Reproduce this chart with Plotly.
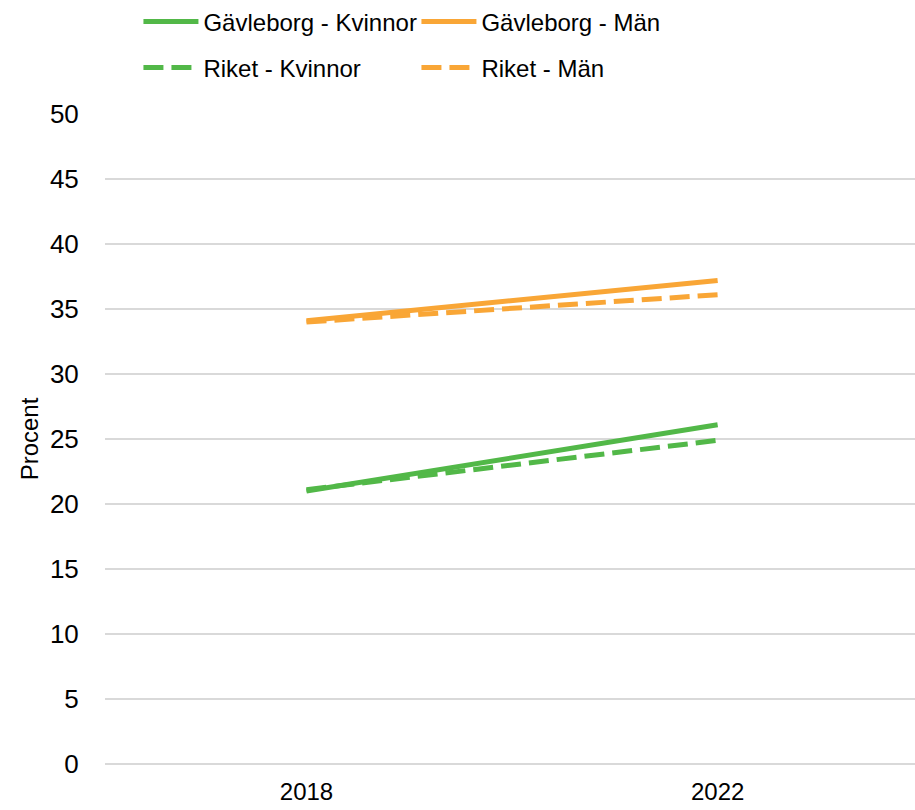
import plotly.graph_objects as go

years = ["2018", "2022"]
gavle_kvinnor = [21.0, 26.1]
gavle_man = [34.1, 37.2]
riket_kvinnor = [21.1, 24.9]
riket_man = [34.0, 36.1]

green = "#52B848"
orange = "#F9A636"
font = "Arial, Liberation Sans, sans-serif"

fig = go.Figure()
fig.add_trace(go.Scatter(x=years, y=gavle_kvinnor, mode="lines", name="Gävleborg - Kvinnor",
                         line=dict(color=green, width=5), legend="legend"))
fig.add_trace(go.Scatter(x=years, y=gavle_man, mode="lines", name="Gävleborg - Män",
                         line=dict(color=orange, width=5), legend="legend"))
fig.add_trace(go.Scatter(x=years, y=riket_kvinnor, mode="lines", name="Riket - Kvinnor",
                         line=dict(color=green, width=5, dash="20px,8px"), legend="legend2"))
fig.add_trace(go.Scatter(x=years, y=riket_man, mode="lines", name="Riket - Män",
                         line=dict(color=orange, width=5, dash="20px,8px"), legend="legend2"))

leg = dict(orientation="h", xref="container", yref="container", xanchor="left", yanchor="middle",
           font=dict(family=font, size=24, color="#000"), itemwidth=55,
           entrywidth=208, entrywidthmode="pixels", bgcolor="rgba(0,0,0,0)")
fig.update_layout(
    width=915, height=810, template=None,
    paper_bgcolor="white", plot_bgcolor="white",
    margin=dict(l=105, r=0, t=114, b=46, autoexpand=False),
    font=dict(family=font, size=24, color="#000"),
    legend=dict(leg, x=0.1513, y=1 - 22 / 810),
    legend2=dict(leg, x=0.1513, y=1 - 68 / 810),
)
fig.update_xaxes(type="category", range=[-0.49, 1.48], showgrid=False, showline=False,
                 ticks="outside", ticklen=6, tickcolor="rgba(0,0,0,0)", tickfont=dict(size=24))
fig.update_yaxes(range=[0, 50], dtick=5, showgrid=True, gridcolor="#D9D9D9", gridwidth=1.5,
                 zeroline=True, zerolinecolor="#D9D9D9", zerolinewidth=1.5, showline=False,
                 ticks="outside", ticklen=20, tickcolor="rgba(0,0,0,0)", tickfont=dict(size=26),
                 title=dict(text="Procent", font=dict(size=24), standoff=4))
fig.write_html("out.html", config={"displayModeBar": False},
               post_script="document.body.style.margin='0';")
